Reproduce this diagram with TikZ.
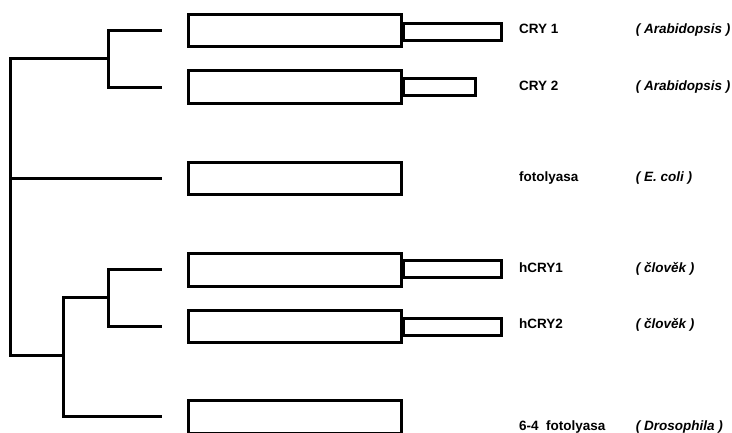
\documentclass[tikz,border=0pt]{standalone}
\usepackage{fontspec}
\setmainfont{Liberation Sans}
\begin{document}
\begin{tikzpicture}[x=1pt,y=-1pt,
  tree/.style={line width=3pt,line join=miter,line cap=butt},
  protbox/.style={draw,line width=3pt,rectangle,inner sep=0pt,minimum width=213pt,minimum height=32.4pt},
  tailbox/.style={draw,line width=3pt,rectangle,inner sep=0pt,minimum height=16.8pt,anchor=west},
  gene/.style={anchor=base west,inner sep=0pt,font=\fontsize{13.5}{16}\selectfont\bfseries},
  species/.style={anchor=base west,inner sep=0pt,font=\fontsize{13.5}{16}\selectfont\bfseries\itshape}]
\useasboundingbox (0,0) rectangle (732,432);
\begin{scope}
\clip (0,0) rectangle (732,432);
% protein domain boxes
\node[protbox] (b1) at (295,30.5) {};
\node[protbox] (b2) at (295,86.8) {};
\node[protbox] (b3) at (295,178.3) {};
\node[protbox] (b4) at (295,270) {};
\node[protbox] (b5) at (295,326.7) {};
\node[protbox] (b6) at (295,417) {};
% C-terminal extensions
\node[tailbox,minimum width=98.5pt] (t1) at (401.5,31.6) {};
\node[tailbox,minimum width=72.5pt] (t2) at (401.5,87.3) {};
\node[tailbox,minimum width=98.5pt] (t4) at (401.5,269.3) {};
\node[tailbox,minimum width=98.5pt] (t5) at (401.5,326.7) {};
\end{scope}
% tree leaves and joints
\coordinate (l1) at (161.7,30.8);
\coordinate (l2) at (161.7,87.5);
\coordinate (l3) at (161.7,178.8);
\coordinate (l4) at (161.7,269.2);
\coordinate (l5) at (161.7,326.5);
\coordinate (l6) at (161.7,416.8);
\coordinate (nA) at (108.2,58.8);
\coordinate (nB) at (108.2,297.5);
\coordinate (nC) at (63.5,355.3);
\coordinate (rTop) at (10.8,58.8);
\coordinate (rMid) at (10.8,178.8);
\coordinate (rBot) at (10.8,355.3);
% tree
\draw[tree] (l1) -| (nA) |- (l2);
\draw[tree] (nA) -- (rTop) -- (rBot) -- (nC);
\draw[tree] (rMid) -- (l3);
\draw[tree] (l4) -| (nB) |- (l5);
\draw[tree] (nB) -- (nC |- nB) |- (l6);
% labels
\node[gene] (g1) at (519,33.3) {CRY 1};
\node[gene] (g2) at (519,90.7) {CRY 2};
\node[gene] (g3) at (519,181.5) {fotolyasa};
\node[gene] (g4) at (519,272.3) {hCRY1};
\node[gene] (g5) at (519,328.3) {hCRY2};
\node[gene] (g6) at (519,430) {6-4\ \ fotolyasa};
\node[species] (s1) at (635.7,33.3) {( Arabidopsis )};
\node[species] (s2) at (635.7,90.7) {( Arabidopsis )};
\node[species] (s3) at (635.7,181.5) {( E. coli )};
\node[species] (s4) at (635.7,272.3) {( člověk )};
\node[species] (s5) at (635.7,328.3) {( člověk )};
\node[species] (s6) at (635.7,430) {( Drosophila )};
\end{tikzpicture}
\end{document}
